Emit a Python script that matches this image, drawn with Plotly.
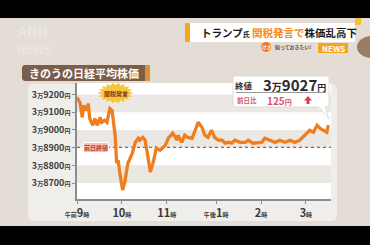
import math
import plotly.graph_objects as go

# ---- data ----
# x = minutes on the trading clock (morning 0-150, short lunch gap, afternoon 156-336)
trade_min = [0, 4, 7, 9, 13, 15, 17, 21, 24, 27, 31, 33, 37, 40, 44, 47, 48, 51, 53, 55,
             57, 60, 61, 64, 68, 74, 78, 82, 84, 88, 91, 94, 98, 102, 106, 111, 118, 122, 128, 134,
             135, 140, 144, 148, 154, 158, 162, 167, 171, 175, 180, 184, 189, 194, 198, 202, 207, 211, 218, 225,
             229, 235, 242, 247, 251, 258, 265, 271, 278, 285, 291, 298, 302, 307, 311, 316, 321, 325, 329, 334, 336]
nikkei = [39183, 39155, 39071, 39138, 39110, 39149, 39065, 39026, 39065, 39026, 39071, 39043, 39054, 39043, 39121, 39110, 39071, 38970, 38812, 38829,
          38762, 38689, 38661, 38706, 38812, 38869, 38930, 38953, 38942, 38958, 38942, 38869, 38762, 38818, 38897, 38885, 38913, 38953, 38981, 38942,
          38970, 38930, 38970, 38958, 38953, 38998, 39043, 39015, 38970, 38958, 38998, 38958, 38942, 38942, 38925, 38930, 38925, 38942, 38930, 38930,
          38942, 38925, 38930, 38930, 38953, 38942, 38930, 38942, 38930, 38942, 38930, 38942, 38958, 38981, 38998, 38987, 39026, 39009, 38998, 38987, 39027]
prev_close = 38902
close_val = 39027
change_val = 125

y_ticks = [38700, 38800, 38900, 39000, 39100, 39200]
x_ticks = [0, 60, 120, 186, 246, 306]
x_tick_labels = ["午前9時", "10時", "11時", "午後1時", "2時", "3時"]
title_text = "きのうの日経平均株価"

FONT = "Noto Sans CJK JP, Noto Sans, sans-serif"

# plot-area pixel geometry
L, R, T, B = 77, 331, 83, 199
def PX(x):
    return (x - L) / (R - L)
def PY(y):
    return (B - y) / (B - T)

def rect_path(x0, y0, x1, y1, r=0):
    if r == 0:
        pts = [(x0, y0), (x1, y0), (x1, y1), (x0, y1)]
        return "M " + " L ".join(f"{PX(a):.5f},{PY(b):.5f}" for a, b in pts) + " Z"
    pts = []
    corners = [(x1 - r, y0 + r, -90), (x1 - r, y1 - r, 0), (x0 + r, y1 - r, 90), (x0 + r, y0 + r, 180)]
    for cx, cy, a0 in corners:
        for k in range(5):
            a = math.radians(a0 + k * 22.5)
            pts.append((cx + r * math.cos(a), cy + r * math.sin(a)))
    return "M " + " L ".join(f"{PX(a):.5f},{PY(b):.5f}" for a, b in pts) + " Z"

def poly_path(pts):
    return "M " + " L ".join(f"{PX(a):.5f},{PY(b):.5f}" for a, b in pts) + " Z"

def pshape(path, fill, line=None, layer="below", lw=0):
    return dict(type="path", xref="paper", yref="paper", path=path, fillcolor=fill,
                line=dict(color=line or fill, width=lw), layer=layer)

shapes = []
# card
shapes.append(pshape(rect_path(28, 84, 337, 221, 5), "#f0eeeb"))
# white plot area
shapes.append(pshape(rect_path(L, T, R, B), "#ffffff"))
# grey bands
for lo, hi in [(39100, 39200), (38900, 39000), (38700, 38800)]:
    shapes.append(dict(type="rect", xref="paper", yref="y", x0=0, x1=1, y0=lo, y1=hi,
                       fillcolor="#ebe8e4", line=dict(width=0), layer="below"))
# previous close dotted line
shapes.append(dict(type="line", xref="paper", yref="y", x0=0, x1=1, y0=prev_close, y1=prev_close,
                   line=dict(color="#b5534a", width=1.2, dash="dot"), layer="below"))
# black bars
shapes.append(pshape(rect_path(-5, -5, 380, 18), "#000000", layer="above"))
shapes.append(pshape(rect_path(-5, 226, 380, 250), "#000000", layer="above"))
# title box
shapes.append(pshape(rect_path(22, 65, 150, 81, 3), "#7b5d4a", layer="above"))
shapes.append(pshape(rect_path(145, 65, 150, 81), "#d9913a", layer="above"))
# headline banner
shapes.append(pshape(rect_path(185, 23, 355, 42), "#ffffff", layer="above"))
shapes.append(pshape(rect_path(185, 23, 190, 42), "#f5a623", layer="above"))
shapes.append(pshape(rect_path(355, 18, 361, 25), "#f2c230", layer="above"))
# NEWS box and badge
shapes.append(pshape(rect_path(318, 43, 348, 53, 1), "#f6a31e", layer="above"))
shapes.append(dict(type="circle", xref="paper", yref="paper", x0=PX(261), x1=PX(271), y0=PY(52), y1=PY(42),
                   fillcolor="#ee7a24", line=dict(width=0), layer="above"))
shapes.append(dict(type="circle", xref="paper", yref="paper", x0=PX(357), x1=PX(385), y0=PY(58), y1=PY(36),
                   fillcolor="#9b7c64", line=dict(width=0), layer="above"))
# starburst
cx, cy, rx, ry, n = 115.5, 93, 18, 10.5, 18
star = []
for i in range(2 * n):
    a = math.pi * i / n
    f = 1.0 if i % 2 == 0 else 0.76
    star.append((cx + rx * f * math.cos(a), cy + ry * f * math.sin(a)))
shapes.append(pshape(poly_path(star), "#f6c63a", layer="above"))
# callout box
shapes.append(pshape(poly_path([(318, 106), (325, 106), (329, 119)]), "#ffffff", line="#d6d6d6", lw=0.8, layer="above"))
shapes.append(pshape(rect_path(233, 76, 329, 107, 2), "#ffffff", line="#d6d6d6", lw=0.8, layer="above"))
shapes.append(pshape(rect_path(319, 105, 324.5, 108), "#ffffff", layer="above"))
shapes.append(dict(type="line", xref="paper", yref="paper", x0=PX(236), x1=PX(326), y0=PY(92.5), y1=PY(92.5),
                   line=dict(color="#9a9a9a", width=1), layer="above"))
# red up arrow
shapes.append(pshape(poly_path([(308, 96), (304, 100.5), (306.5, 100.5), (306.5, 104), (309.5, 104), (309.5, 100.5), (312, 100.5)]),
                     "#d8404a", layer="above"))

fig = go.Figure()
fig.add_trace(go.Scatter(x=trade_min, y=nikkei, mode="lines",
                         line=dict(color="#f07d1e", width=3.3), hoverinfo="skip", showlegend=False))

def small(t, s):
    return f"<span style='font-size:{s}px'>{t}</span>"

def fmt_y(v):
    return f"<b>3{small('万', 6)}{v - 30000}{small('円', 6)}</b>"

def fmt_x(lbl):
    out = ""
    for ch in lbl:
        out += ch if ch.isdigit() else small(ch, 6)
    return f"<b>{out}</b>"

ann = []
def add_ann(x, y, text, size, color, xanchor="center", **kw):
    ann.append(dict(xref="paper", yref="paper", x=PX(x), y=PY(y), text=text, showarrow=False,
                    xanchor=xanchor, yanchor="middle", font=dict(family=FONT, size=size, color=color), **kw))

add_ann(84, 73, f"<b>{title_text}</b>", 11, "#ffffff")
add_ann(199, 32.5, "<b>トランプ" + small("氏", 7) + " <span style='color:#f08a24'>関税発言で</span>株価乱高下</b>",
        10.5, "#1a1a1a", xanchor="left")
add_ann(266, 47, "<b>けさ</b>", 4.5, "#ffffff")
add_ann(273, 47.5, "<b>知っておきたい!</b>", 5, "#6a4a3a", xanchor="left")
add_ann(333, 48, "<b>NEWS</b>", 8, "#ffffff")
add_ann(15, 31, "<b>ANN</b>", 14, "rgba(255,255,255,0.3)", xanchor="left")
add_ann(15, 48, "<b>NEWS</b>", 12, "rgba(255,255,255,0.25)", xanchor="left")
add_ann(115.5, 93.5, "<b>関税発言</b>", 6, "#8a3a26")
add_ann(244, 85, "<b>終値</b>", 8.5, "#333333")
add_ann(261, 84.5, f"<b>3{small('万', 10)}{close_val - 30000}{small('円', 9)}</b>", 15, "#2a2a2a", xanchor="left")
add_ann(247, 100, "<b>前日比</b>", 6.5, "#d4536b")
add_ann(265, 100, f"<b>{change_val}{small('円', 7)}</b>", 10, "#d4536b", xanchor="left")
ann.append(dict(xref="paper", yref="y", x=PX(96), y=prev_close, text="<b>前日終値</b>", showarrow=False,
                xanchor="center", yanchor="middle", bgcolor="#f3c2b4", bordercolor="#ffffff", borderwidth=1,
                borderpad=0, font=dict(family=FONT, size=6, color="#c0392b")))

fig.update_layout(
    width=370, height=245,
    margin=dict(l=L, r=370 - R, t=T, b=245 - B),
    paper_bgcolor="#e3ddd6", plot_bgcolor="rgba(0,0,0,0)",
    shapes=shapes, annotations=ann, showlegend=False,
    xaxis=dict(range=[0, (R - L) / 0.748], tickvals=x_ticks, ticktext=[fmt_x(t) for t in x_tick_labels],
               showgrid=False, zeroline=False, showline=True, linecolor="#8c8c8c", linewidth=1.5,
               ticks="outside", ticklen=3, tickcolor="#8c8c8c", tickfont=dict(family=FONT, size=11, color="#3a3a3a")),
    yaxis=dict(range=[38610, 39265], tickvals=y_ticks, ticktext=[fmt_y(v) for v in y_ticks],
               showgrid=False, zeroline=False, showline=True, linecolor="#8c8c8c", linewidth=1.5,
               ticks="outside", ticklen=3, tickcolor="#8c8c8c", tickfont=dict(family=FONT, size=9, color="#3a3a3a")),
)

fig.write_html("out.html")
